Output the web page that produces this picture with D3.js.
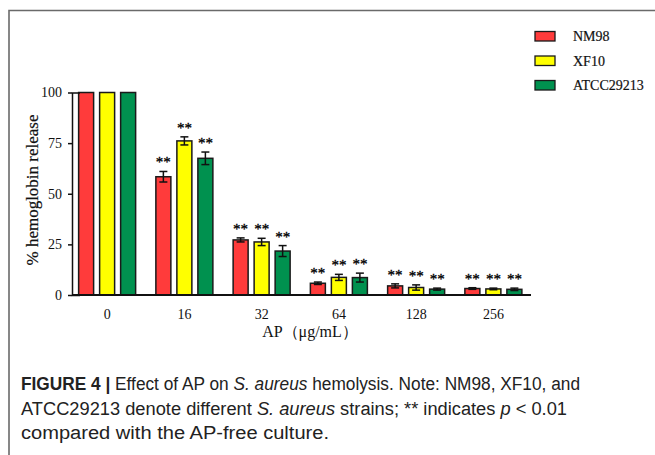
<!DOCTYPE html>
<html><head><meta charset="utf-8">
<script src="https://cdn.jsdelivr.net/npm/d3@7/dist/d3.min.js"></script>
<style>
html,body{margin:0;padding:0;background:#fff;}
svg{display:block;}
</style></head>
<body>
<svg id="chart" width="655" height="455"></svg>
<script>
const groups = ["0", "16", "32", "64", "128", "256"];
const seriesNames = ["NM98", "XF10", "ATCC29213"];
const seriesColors = ["#ff3b3b", "#ffff00", "#00914f"];
const nm98 = [100, 58.4, 27.2, 5.8, 4.5, 3.2];
const xf10 = [100, 76.1, 26.2, 8.7, 3.7, 3.0];
const atcc = [100, 67.5, 21.7, 8.6, 2.9, 2.8];
const nm98Err = [0, 2.6, 1.0, 0.6, 1.0, 0.4];
const xf10Err = [0, 2.0, 1.8, 1.5, 1.3, 0.4];
const atccErr = [0, 3.1, 2.7, 2.2, 0.5, 0.6];
const signif = [false, true, true, true, true, true];
const yTicks = [0, 25, 50, 75, 100];
const xTitle = "AP（μg/mL）";
const yTitle = "% hemoglobin release";

const values = [nm98, xf10, atcc];
const errs = [nm98Err, xf10Err, atccErr];

const svg = d3.select("#chart");
const serif = "'Liberation Serif','Times New Roman',serif";

// figure frame
svg.append("path").attr("d", "M9,455V10.5H655")
  .attr("fill", "none").attr("stroke", "#6a6a6a").attr("stroke-width", 1.6);

const axisX = 72, axisBottomY = 295, axisTopY = 92.5;
const x0 = d3.scaleBand().domain(groups).range([68.5, 532]).paddingInner(0).paddingOuter(0);
const x1 = d3.scaleBand().domain(seriesNames).range([-28.5, 28.5]).paddingInner(0.286).paddingOuter(0);
const y = d3.scaleLinear().domain([0, 100]).range([axisBottomY, axisTopY]);
const color = d3.scaleOrdinal().domain(seriesNames).range(seriesColors);

const rows = [];
groups.forEach((g, gi) => {
  seriesNames.forEach((s, si) => {
    rows.push({g, s, v: values[si][gi], e: errs[si][gi], sig: signif[gi]});
  });
});

const plot = svg.append("g");
// bars
plot.selectAll("rect.bar").data(rows).join("rect").attr("class", "bar")
  .attr("x", d => x0(d.g) + x0.bandwidth() / 2 + x1(d.s))
  .attr("width", x1.bandwidth())
  .attr("y", d => y(d.v))
  .attr("height", d => y(0) - y(d.v))
  .attr("fill", d => color(d.s))
  .attr("stroke", "#1a1a1a").attr("stroke-width", 1.5);

// error bars
const eb = plot.selectAll("g.err").data(rows.filter(d => d.e > 0)).join("g").attr("class", "err")
  .attr("transform", d => `translate(${x0(d.g) + x0.bandwidth() / 2 + x1(d.s) + x1.bandwidth() / 2},0)`);
eb.append("line").attr("x1", 0).attr("x2", 0)
  .attr("y1", d => y(d.v + d.e)).attr("y2", d => y(d.v - d.e))
  .attr("stroke", "#111").attr("stroke-width", 1.5);
eb.append("line").attr("x1", -4).attr("x2", 4)
  .attr("y1", d => y(d.v + d.e)).attr("y2", d => y(d.v + d.e))
  .attr("stroke", "#111").attr("stroke-width", 1.5);
eb.append("line").attr("x1", -4).attr("x2", 4)
  .attr("y1", d => y(d.v - d.e)).attr("y2", d => y(d.v - d.e))
  .attr("stroke", "#111").attr("stroke-width", 1.5);

// significance stars
plot.selectAll("text.star").data(rows.filter(d => d.sig)).join("text").attr("class", "star")
  .attr("x", d => x0(d.g) + x0.bandwidth() / 2 + x1(d.s) + x1.bandwidth() / 2)
  .attr("y", d => y(d.v + d.e) - 4)
  .attr("text-anchor", "middle")
  .attr("font-family", serif).attr("font-size", 15).attr("fill", "#000")
  .attr("stroke", "#000").attr("stroke-width", 0.3)
  .text("**");

// y axis
const yAxis = svg.append("g").attr("transform", `translate(${axisX},0)`)
  .call(d3.axisLeft(y).tickValues(yTicks).tickSize(4).tickSizeOuter(-8).tickPadding(6));
yAxis.select(".domain").attr("stroke", "#111").attr("stroke-width", 1.5);
yAxis.selectAll(".tick line").attr("stroke", "#111").attr("stroke-width", 1.5);
yAxis.selectAll(".tick text").attr("font-family", serif).attr("font-size", 14).attr("fill", "#111");

// x axis
const xAxis = svg.append("g").attr("transform", `translate(0,${axisBottomY})`)
  .call(d3.axisBottom(x0).tickSize(0).tickPadding(14));
xAxis.select(".domain").remove();
xAxis.append("line").attr("x1", axisX).attr("x2", 531).attr("y1", 0).attr("y2", 0)
  .attr("stroke", "#111").attr("stroke-width", 1.8);
xAxis.selectAll(".tick text").attr("font-family", serif).attr("font-size", 14).attr("fill", "#111");

// axis titles
svg.append("text").attr("x", 310).attr("y", 337).attr("text-anchor", "middle")
  .attr("font-family", serif).attr("font-size", 16).attr("fill", "#111").text(xTitle);
svg.append("text").attr("transform", "translate(38,190) rotate(-90)").attr("text-anchor", "middle")
  .attr("font-family", serif).attr("font-size", 17).attr("fill", "#111")
  .attr("stroke", "#111").attr("stroke-width", 0.2).text(yTitle);

// legend
const leg = svg.append("g").attr("transform", "translate(535,31.5)");
const li = leg.selectAll("g").data(seriesNames).join("g")
  .attr("transform", (d, i) => `translate(0,${i * 24.5})`);
li.append("rect").attr("width", 20).attr("height", 9.5)
  .attr("fill", d => color(d)).attr("stroke", "#1a1a1a").attr("stroke-width", 1.3);
li.append("text").attr("x", 38).attr("y", 9.5)
  .attr("font-family", serif).attr("font-size", 14).attr("fill", "#111")
  .attr("stroke", "#111").attr("stroke-width", 0.2).text(d => d);

// caption
const capFont = "'Liberation Sans','Arial',sans-serif";
const cap = svg.append("g").attr("font-family", capFont).attr("font-size", 18).attr("fill", "#222");
const l1 = cap.append("text").attr("x", 21).attr("y", 390)
  .attr("textLength", 559).attr("lengthAdjust", "spacingAndGlyphs");
l1.append("tspan").attr("font-weight", "bold").text("FIGURE 4 | ");
l1.append("tspan").text("Effect of AP on ");
l1.append("tspan").attr("font-style", "italic").text("S. aureus");
l1.append("tspan").text(" hemolysis. Note: NM98, XF10, and");
const l2 = cap.append("text").attr("x", 21).attr("y", 414.5)
  .attr("textLength", 546).attr("lengthAdjust", "spacingAndGlyphs");
l2.append("tspan").text("ATCC29213 denote different ");
l2.append("tspan").attr("font-style", "italic").text("S. aureus");
l2.append("tspan").text(" strains; ** indicates ");
l2.append("tspan").attr("font-style", "italic").text("p");
l2.append("tspan").text(" < 0.01");
const l3 = cap.append("text").attr("x", 21).attr("y", 439)
  .attr("textLength", 308).attr("lengthAdjust", "spacingAndGlyphs");
l3.append("tspan").text("compared with the AP-free culture.");
</script>
</body></html>
